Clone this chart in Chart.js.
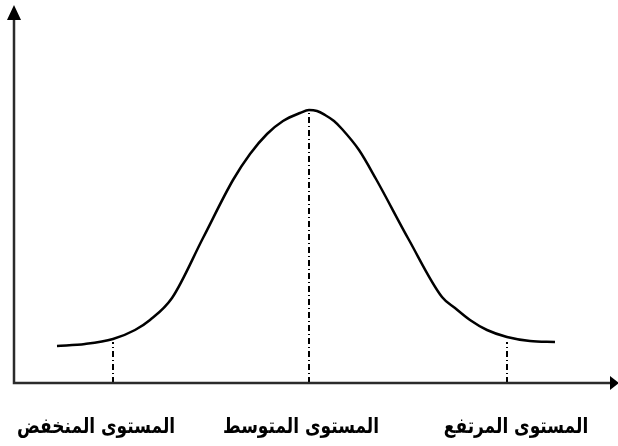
<!DOCTYPE html>
<html>
<head>
<meta charset="utf-8">
<script src="https://cdn.jsdelivr.net/npm/chart.js@4.4.1/dist/chart.umd.min.js"></script>
<style>
  html, body { margin: 0; padding: 0; background: #fff; }
  #wrap { width: 618px; height: 446px; position: relative; }
</style>
</head>
<body>
<div id="wrap"><canvas id="curve"></canvas></div>
<script>
// curve points (x along the axis, y height above it)
const curveX = [43, 71, 99, 121, 136, 158, 189, 219, 236, 253, 269, 286, 295,
                303, 311, 320, 328, 345, 362, 395, 428, 441, 456, 473, 493, 516, 541];
const curveY = [37, 39, 44, 53, 63, 85, 145, 203, 229, 249, 262, 270, 273,
                272, 268, 262, 254, 233, 204, 143, 86, 75, 63, 53, 46, 42, 41];

// the three levels: position on the axis, height of the dash-dot marker, label
const levelX = [99, 295, 493];
const levelY = [41, 273, 41];
const levelLabels = ['المستوى المنخفض', 'المستوى المتوسط', 'المستوى المرتفع'];
const labelX = [82, 287, 502];

const xMax = 597;
const yMax = 364;

const datasets = [{
    data: curveX.map((x, i) => ({x: x, y: curveY[i]})),
    borderColor: '#000',
    borderWidth: 2.5,
    pointRadius: 0,
    cubicInterpolationMode: 'monotone',
    fill: false
}];
levelX.forEach((x, i) => {
    datasets.push({
        data: [{x: x, y: 0}, {x: x, y: levelY[i]}],
        borderColor: '#000',
        borderWidth: 2,
        borderDash: [6, 3, 1, 3],
        pointRadius: 0,
        fill: false
    });
});

// axes with arrow heads + level labels
const axesPlugin = {
    id: 'axesPlugin',
    afterDatasetsDraw(chart) {
        const ctx = chart.ctx;
        const xs = chart.scales.x, ys = chart.scales.y;
        const x0 = xs.getPixelForValue(0), y0 = ys.getPixelForValue(0);
        const x1 = xs.getPixelForValue(xMax), y1 = ys.getPixelForValue(yMax);
        ctx.save();
        ctx.strokeStyle = '#2b2b2b';
        ctx.lineWidth = 2.5;
        ctx.beginPath();
        ctx.moveTo(x0, y1);
        ctx.lineTo(x0, y0);
        ctx.lineTo(x1, y0);
        ctx.stroke();
        ctx.fillStyle = '#000';
        // up arrow
        ctx.beginPath();
        ctx.moveTo(x0, y1 - 14);
        ctx.lineTo(x0 - 7, y1 + 1);
        ctx.lineTo(x0 + 7, y1 + 1);
        ctx.closePath();
        ctx.fill();
        // right arrow
        ctx.beginPath();
        ctx.moveTo(x1 + 8, y0);
        ctx.lineTo(x1 - 1, y0 - 7);
        ctx.lineTo(x1 - 1, y0 + 7);
        ctx.closePath();
        ctx.fill();

        // labels, a bit stretched vertically like the original font
        ctx.font = 'bold 17px "DejaVu Sans", sans-serif';
        ctx.textAlign = 'center';
        ctx.textBaseline = 'alphabetic';
        ctx.direction = 'rtl';
        levelLabels.forEach((t, i) => {
            ctx.save();
            ctx.translate(xs.getPixelForValue(labelX[i]), y0 + 50);
            ctx.scale(1, 1.25);
            ctx.fillText(t, 0, 0);
            ctx.restore();
        });
        ctx.restore();
    }
};

new Chart(document.getElementById('curve'), {
    type: 'line',
    data: { datasets: datasets },
    options: {
        responsive: true,
        maintainAspectRatio: false,
        animation: false,
        layout: { padding: { left: 14, right: 7, top: 19, bottom: 63 } },
        plugins: { legend: { display: false }, tooltip: { enabled: false } },
        scales: {
            x: { type: 'linear', min: 0, max: xMax, display: false },
            y: { min: 0, max: yMax, display: false }
        }
    },
    plugins: [axesPlugin]
});
</script>
</body>
</html>
